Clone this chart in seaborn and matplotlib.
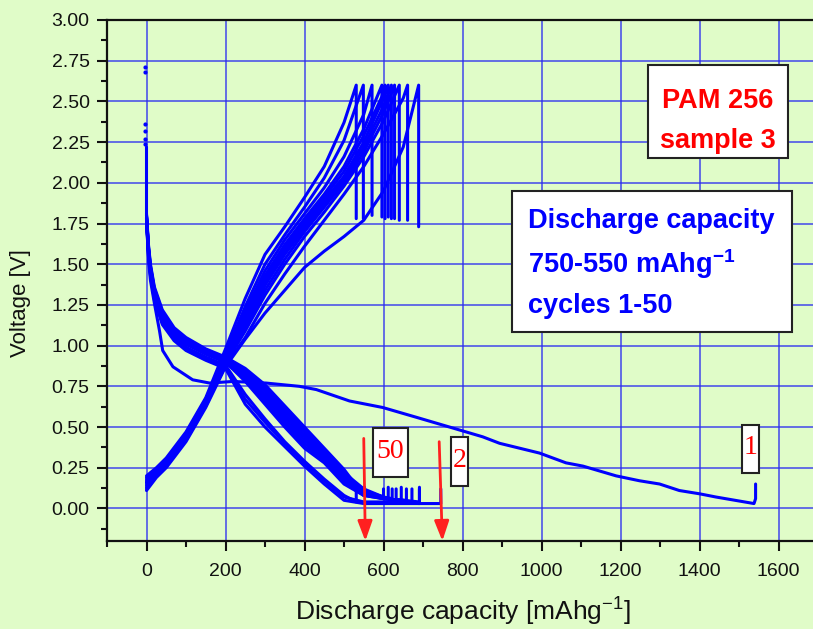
import numpy as np
import pandas as pd
import matplotlib
matplotlib.use("Agg")
import matplotlib.pyplot as plt
from matplotlib.patches import Rectangle
from matplotlib.ticker import MultipleLocator, FormatStrFormatter
import seaborn as sns

# ---------------- data ----------------
# Charge curves: voltage at common capacity grid, then end capacity at 2.60 V and relaxed voltage
CHG_CAP = [0, 25, 50, 100, 150, 200, 250, 300, 350, 400, 450, 500, 550, 600, 650]
chg_c01 = [0.11, 0.19, 0.25, 0.41, 0.62, 0.87, 1.04, 1.20, 1.34, 1.48, 1.58, 1.67, 1.77, 1.95, 2.22]
chg_c03 = [0.12, 0.20, 0.26, 0.42, 0.63, 0.88, 1.05, 1.26, 1.44, 1.61, 1.77, 1.93, 2.10, 2.30, 2.52]
chg_c10 = [0.13, 0.21, 0.27, 0.43, 0.64, 0.89, 1.09, 1.31, 1.50, 1.67, 1.82, 1.98, 2.16, 2.38]
chg_c15 = [0.14, 0.21, 0.27, 0.43, 0.64, 0.90, 1.11, 1.34, 1.53, 1.70, 1.85, 2.00, 2.19, 2.43]
chg_c20 = [0.15, 0.22, 0.28, 0.44, 0.65, 0.91, 1.13, 1.37, 1.56, 1.72, 1.87, 2.02, 2.22, 2.47]
chg_c25 = [0.16, 0.22, 0.28, 0.44, 0.65, 0.92, 1.15, 1.39, 1.58, 1.74, 1.89, 2.04, 2.25, 2.52]
chg_c30 = [0.16, 0.23, 0.29, 0.45, 0.66, 0.92, 1.17, 1.41, 1.60, 1.76, 1.91, 2.07, 2.29, 2.55]
chg_c35 = [0.17, 0.23, 0.29, 0.45, 0.66, 0.93, 1.19, 1.43, 1.62, 1.78, 1.93, 2.10, 2.33]
chg_c40 = [0.18, 0.24, 0.30, 0.46, 0.67, 0.94, 1.21, 1.46, 1.65, 1.81, 1.97, 2.16, 2.42]
chg_c45 = [0.19, 0.24, 0.30, 0.46, 0.67, 0.95, 1.24, 1.50, 1.68, 1.85, 2.03, 2.26]
chg_c49 = [0.20, 0.25, 0.31, 0.47, 0.68, 0.98, 1.29, 1.56, 1.73, 1.91, 2.10, 2.37]
chg_curves = [chg_c01, chg_c03, chg_c10, chg_c15, chg_c20, chg_c25, chg_c30, chg_c35, chg_c40, chg_c45, chg_c49]
chg_end = [689, 661, 640, 628, 620, 612, 604, 596, 571, 549, 531]
chg_rest = [1.73, 1.77, 1.77, 1.78, 1.78, 1.79, 1.78, 1.79, 1.80, 1.78, 1.78]
CHG_TOP = 2.60

# Discharge curves (cycles 2-50): voltage at common capacity grid, end point, relaxation
DIS_CAP = [0, 5, 10, 20, 40, 70, 100, 150, 200, 250, 300, 350, 400, 450, 500, 550, 600, 650, 700]
dis_c02 = [1.76, 1.55, 1.43, 1.28, 1.13, 1.03, 0.97, 0.91, 0.86, 0.64, 0.50, 0.38, 0.26, 0.15, 0.05, 0.03, 0.03, 0.03, 0.03]
dis_c03 = [1.77, 1.56, 1.44, 1.29, 1.14, 1.04, 0.98, 0.92, 0.87, 0.67, 0.53, 0.40, 0.28, 0.17, 0.07, 0.04, 0.04, 0.035]
dis_c05 = [1.78, 1.57, 1.45, 1.30, 1.15, 1.05, 0.99, 0.93, 0.88, 0.70, 0.55, 0.41, 0.29, 0.18, 0.08]
dis_c10 = [1.78, 1.58, 1.46, 1.32, 1.17, 1.07, 1.01, 0.95, 0.90, 0.78, 0.64, 0.50, 0.37, 0.28, 0.15, 0.08, 0.06, 0.05]
dis_c15 = [1.78, 1.58, 1.46, 1.32, 1.17, 1.07, 1.01, 0.95, 0.90, 0.79, 0.66, 0.52, 0.38, 0.29, 0.16, 0.08, 0.06, 0.05]
dis_c20 = [1.78, 1.58, 1.46, 1.32, 1.17, 1.07, 1.01, 0.95, 0.90, 0.80, 0.67, 0.53, 0.40, 0.30, 0.17, 0.09, 0.06, 0.05]
dis_c25 = [1.79, 1.59, 1.47, 1.33, 1.18, 1.08, 1.02, 0.95, 0.90, 0.81, 0.69, 0.55, 0.42, 0.31, 0.18, 0.09, 0.06]
dis_c30 = [1.79, 1.59, 1.47, 1.33, 1.19, 1.08, 1.02, 0.96, 0.91, 0.82, 0.70, 0.57, 0.44, 0.32, 0.19, 0.10, 0.07]
dis_c35 = [1.79, 1.60, 1.48, 1.34, 1.19, 1.09, 1.03, 0.96, 0.91, 0.83, 0.72, 0.58, 0.45, 0.33, 0.20, 0.10, 0.07]
dis_c40 = [1.80, 1.60, 1.48, 1.34, 1.20, 1.09, 1.03, 0.97, 0.92, 0.84, 0.73, 0.60, 0.47, 0.34, 0.21, 0.11, 0.07]
dis_c45 = [1.80, 1.61, 1.49, 1.35, 1.21, 1.10, 1.04, 0.97, 0.92, 0.85, 0.74, 0.61, 0.48, 0.35, 0.22, 0.12]
dis_c50 = [1.81, 1.62, 1.50, 1.36, 1.22, 1.11, 1.05, 0.98, 0.93, 0.86, 0.76, 0.63, 0.50, 0.37, 0.24]
dis_curves = [dis_c02, dis_c03, dis_c05, dis_c10, dis_c15, dis_c20, dis_c25, dis_c30, dis_c35, dis_c40, dis_c45, dis_c50]
dis_end = [745, 691, 531, 691, 672, 658, 645, 632, 622, 612, 600, 552]
dis_end_v = [0.03, 0.03, 0.04, 0.04, 0.04, 0.05, 0.05, 0.05, 0.06, 0.06, 0.07, 0.08]
dis_rest = [0.12, 0.12, 0.12, 0.13, 0.12, 0.12, 0.13, 0.12, 0.12, 0.13, 0.12, 0.13]

# First discharge (cycle 1)
dis1_cap = [0, 0, 3, 6, 10, 20, 33, 41, 67, 117, 160, 219, 303, 387, 430, 514, 598, 683, 767,
            851, 894, 995, 1062, 1105, 1189, 1248, 1299, 1349, 1400, 1442, 1538, 1542, 1542]
dis1_v = [2.22, 1.80, 1.62, 1.50, 1.40, 1.26, 1.09, 0.97, 0.87, 0.79, 0.77, 0.78, 0.77, 0.75, 0.73,
          0.66, 0.62, 0.56, 0.50, 0.44, 0.40, 0.34, 0.28, 0.26, 0.20, 0.17, 0.15, 0.11, 0.09, 0.07,
          0.03, 0.06, 0.15]
# open-circuit points at start of cycle 1
ocv_cap = [-3, -3, -3, -3, -3, -3]
ocv_v = [2.71, 2.68, 2.36, 2.32, 2.27, 2.24]

# ---------------- build long table ----------------
rows = []
cid = 0
for v, end, rest in zip(chg_curves, chg_end, chg_rest):
    xs = CHG_CAP[:len(v)] + [end, end]
    ys = v + [CHG_TOP, rest]
    rows += [(cid, x, y) for x, y in zip(xs, ys)]
    cid += 1
for v, end, ev, rest in zip(dis_curves, dis_end, dis_end_v, dis_rest):
    n = sum(1 for c in DIS_CAP if c < end)
    xs = DIS_CAP[:n] + [end, end]
    ys = v[:n] + [ev, rest]
    rows += [(cid, x, y) for x, y in zip(xs, ys)]
    cid += 1
rows += [(cid, x, y) for x, y in zip(dis1_cap, dis1_v)]
df = pd.DataFrame(rows, columns=["curve", "cap", "volt"])
ocv = pd.DataFrame({"cap": ocv_cap, "volt": ocv_v})

# ---------------- style ----------------
sns.set_theme(style="ticks")
plt.rcParams['font.family'] = ['Liberation Sans', 'DejaVu Sans']
plt.rcParams['mathtext.fontset'] = 'custom'
plt.rcParams['mathtext.rm'] = 'Liberation Sans'
plt.rcParams['mathtext.it'] = 'Liberation Sans:italic'
plt.rcParams['mathtext.bf'] = 'Liberation Sans:bold'

BG = '#E0FCC8'
W, H = 813, 629
fig = plt.figure(figsize=(W / 100, H / 100), dpi=100, facecolor=BG)
ax = fig.add_axes([107 / W, 88 / H, 711 / W, 521 / H])
ax.set_facecolor(BG)

sns.lineplot(data=df, x="cap", y="volt", units="curve", estimator=None, sort=False,
             color="#0000FF", lw=2.2, ax=ax, legend=False, zorder=3)
sns.scatterplot(data=ocv, x="cap", y="volt", color="#0000FF", s=9, linewidth=0, ax=ax, zorder=3)

ax.set_xlim(-100, 1700)
ax.set_ylim(-0.2, 3.0)
ax.xaxis.set_major_locator(MultipleLocator(200))
ax.xaxis.set_minor_locator(MultipleLocator(100))
ax.yaxis.set_major_locator(MultipleLocator(0.25))
ax.yaxis.set_minor_locator(MultipleLocator(0.125))
ax.yaxis.set_major_formatter(FormatStrFormatter('%.2f'))
ax.set_xticks([0, 200, 400, 600, 800, 1000, 1200, 1400, 1600])

ax.grid(True, which='major', color='#2a2af0', lw=1.2, alpha=0.8)
ax.set_axisbelow(True)
ax.tick_params(which='major', direction='out', length=7.5, width=1.5, labelsize=14,
               colors='#111111', pad=5)
ax.tick_params(which='minor', direction='out', length=4, width=1.5, colors='#111111')
ax.tick_params(axis='x', which='major', pad=8)
for s in ax.spines.values():
    s.set_linewidth(1.6)
    s.set_color('#111111')

ax.set_xlabel('Discharge capacity [mAhg$^{-1}$]', fontsize=19, color='#111111')
ax.set_ylabel('Voltage [V]', fontsize=16, color='#111111')
ax.xaxis.set_label_coords(0.50, (541 - 596) / 521)
ax.yaxis.set_label_coords((31 - 107) / 711, (541 - 303) / 521)


def fx(px):
    return px / W


def fy(py):
    return 1 - py / H


def box(x0, y0, x1, y1):
    fig.patches.append(Rectangle((fx(x0), fy(y1)), (x1 - x0) / W, (y1 - y0) / H,
                                 transform=fig.transFigure, facecolor='white',
                                 edgecolor='#222222', lw=1.5, zorder=5))


# sample box
box(648, 65, 788, 158)
fig.text(fx(718), fy(101), 'PAM 256', color='#FF0000', fontsize=19.5, fontweight='bold',
         ha='center', va='center', zorder=6)
fig.text(fx(718), fy(141), 'sample 3', color='#FF0000', fontsize=19.5, fontweight='bold',
         ha='center', va='center', zorder=6)

# info box
box(512, 191, 792, 332)
fig.text(fx(528), fy(221), 'Discharge capacity', color='#0000FF', fontsize=19.5,
         fontweight='bold', ha='left', va='center', zorder=6)
fig.text(fx(528), fy(264), r'750-550 mAhg$^{\mathbf{-1}}$', color='#0000FF', fontsize=19.5,
         fontweight='bold', ha='left', va='center', zorder=6)
fig.text(fx(528), fy(306), 'cycles 1-50', color='#0000FF', fontsize=19.5,
         fontweight='bold', ha='left', va='center', zorder=6)

# cycle labels
for (x0, y0, x1, y1), lab in [((373, 428, 408, 477), '50'), ((451, 437, 468, 486), '2'),
                              ((742, 425, 759, 473), '1')]:
    box(x0, y0, x1, y1)
    fig.text(fx((x0 + x1) / 2), fy((y0 + y1) / 2 - 1), lab, color='#FF0000', fontsize=20,
             family='Liberation Serif', ha='center', va='center', zorder=6)

# arrows to cycle-50 and cycle-2 end capacities
arrow_kw = dict(arrowstyle='-|>,head_length=0.6,head_width=0.22', color='#FF2020', lw=2,
                mutation_scale=20, shrinkA=0, shrinkB=0)
ax.annotate('', xy=(dis_end[-1] + 2, -0.2), xytext=(dis_end[-1] - 2, 0.43),
            arrowprops=arrow_kw, annotation_clip=False, zorder=7)
ax.annotate('', xy=(dis_end[0] + 4, -0.2), xytext=(dis_end[0] - 4, 0.41),
            arrowprops=arrow_kw, annotation_clip=False, zorder=7)

fig.savefig('out.png', dpi=100, facecolor=BG)
